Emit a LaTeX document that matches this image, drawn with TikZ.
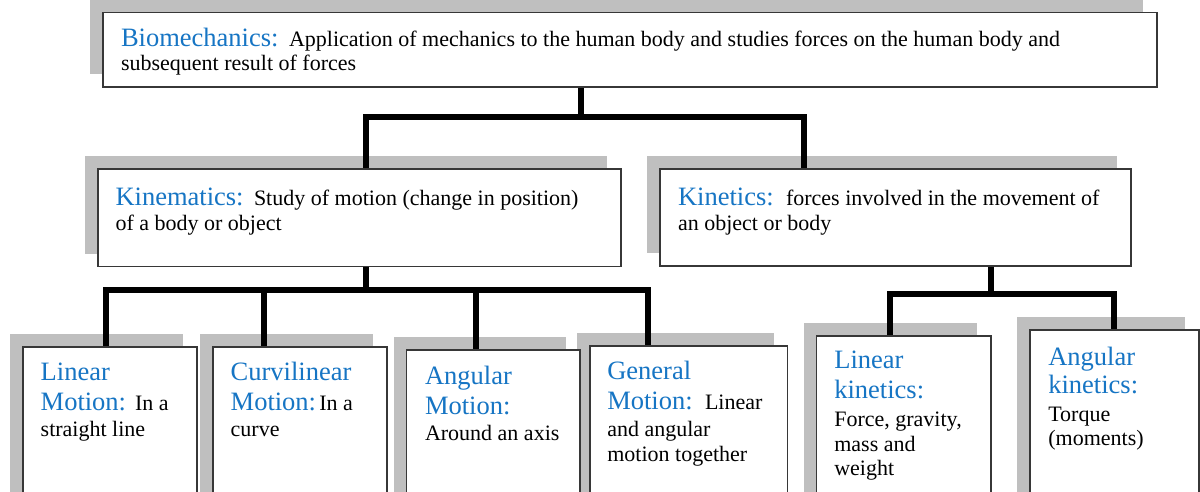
\documentclass[tikz,border=0pt]{standalone}
\usepackage{fontspec}
\setmainfont{LiberationSerif}[Extension=.ttf, UprightFont=*-Regular, BoldFont=*-Bold, ItalicFont=*-Italic, BoldItalicFont=*-BoldItalic]
\usetikzlibrary{fit,backgrounds}
\definecolor{lblue}{RGB}{22,117,196}
\definecolor{shadowgray}{RGB}{191,191,191}
\definecolor{bordergray}{RGB}{55,55,55}
\newcommand{\bluefont}{\rmfamily\fontsize{26.5}{30}\selectfont\color{lblue}}
\newcommand{\blackfont}{\rmfamily\fontsize{22}{25}\selectfont\color{black}}
\begin{document}
\begin{tikzpicture}[x=1pt,y=-1pt,
  box/.style={draw=bordergray, line width=1.5pt, fill=white, inner sep=0pt, outer sep=0pt},
  conn/.style={line width=6pt, draw=black, line join=miter},
  shade/.style={fill=shadowgray},
  bl/.style={anchor=base west, inner sep=0pt, outer sep=0pt, font=\bluefont},
  tx/.style={anchor=base west, inner sep=0pt, outer sep=0pt, font=\blackfont}]
\useasboundingbox (0,0) rectangle (1200,492);
\clip (0,0) rectangle (1200,492);

% boxes
\node[box, fit={(103,12.5) (1157,87)}] (bio) {};
\node[box, fit={(98,169) (621,266.5)}] (kmx) {};
\node[box, fit={(660,169) (1131,266)}] (knt) {};
\node[box, fit={(23,347) (197,520)}] (lm) {};
\node[box, fit={(213,347) (387,520)}] (cm) {};
\node[box, fit={(406.5,350) (580,520)}] (am) {};
\node[box, fit={(590,346) (787.5,520)}] (gm) {};
\node[box, fit={(816.5,336) (991,520)}] (lk) {};
\node[box, fit={(1030,330) (1199,520)}] (ak) {};

% junction coordinates
\coordinate (j1) at (580.5,117.5);
\coordinate (h1l) at (366,117.5);
\coordinate (h1r) at (804,117.5);
\coordinate (j2) at (366,289.7);
\coordinate (h2a) at (106,289.7);
\coordinate (h2b) at (264,289.7);
\coordinate (h2c) at (476,289.7);
\coordinate (h2d) at (648.3,289.7);
\coordinate (j3) at (991,294);
\coordinate (h3a) at (890,294);
\coordinate (h3b) at (1113.5,294);

\begin{scope}[on background layer]
  \foreach \b in {bio,kmx,knt,lm,cm,am,gm,lk,ak}{
    \fill[shade] ([shift={(-13,-13)}]\b.south west) rectangle ([shift={(-14,-13)}]\b.north east);
  }
  \draw[conn] (bio.south -| j1) -- (j1);
  \draw[conn] (kmx.north -| h1l) -- (h1l) -- (h1r) -- (knt.north -| h1r);
  \draw[conn] (kmx.south -| j2) -- (j2);
  \draw[conn] (lm.north -| h2a) -- (h2a) -- (h2d) -- (gm.north -| h2d);
  \draw[conn] (h2b) -- (cm.north -| h2b);
  \draw[conn] (h2c) -- (am.north -| h2c);
  \draw[conn] (knt.south -| j3) -- (j3);
  \draw[conn] (lk.north -| h3a) -- (h3a) -- (h3b) -- (ak.north -| h3b);
\end{scope}

% texts: top box
\node[bl] (bio1) at (121,47) {Biomechanics:};
\node[tx] (bio2) at (289,47) {Application of mechanics to the human body and studies forces on the human body and};
\node[tx] (bio3) at (121,71) {subsequent result of forces};
% kinematics
\node[bl] (kmx1) at (115.5,205) {Kinematics:};
\node[tx] (kmx2) at (254,205) {Study of motion (change in position)};
\node[tx] (kmx3) at (115.5,230) {of a body or object};
% kinetics
\node[bl] (knt1) at (678,205) {Kinetics:};
\node[tx] (knt2) at (786,205) {forces involved in the movement of};
\node[tx] (knt3) at (678,230) {an object or body};
% linear motion
\node[bl] (lm1) at (40.7,380) {Linear};
\node[bl] (lm2) at (40.7,410.7) {Motion:};
\node[tx] (lm3) at (135,410.7) {In a};
\node[tx] (lm4) at (40.7,436.7) {straight line};
% curvilinear motion
\node[bl] (cm1) at (230.7,380) {Curvilinear};
\node[bl] (cm2) at (230.7,410.7) {Motion:};
\node[tx] (cm3) at (319.3,410.7) {In a};
\node[tx] (cm4) at (230.7,436.7) {curve};
% angular motion
\node[bl] (am1) at (425,384) {Angular};
\node[bl] (am2) at (425,414) {Motion:};
\node[tx] (am3) at (425,440) {Around an axis};
% general motion
\node[bl] (gm1) at (607.3,379.3) {General};
\node[bl] (gm2) at (607.3,409.3) {Motion:};
\node[tx] (gm3) at (705,409.3) {Linear};
\node[tx] (gm4) at (607.3,436.7) {and angular};
\node[tx] (gm5) at (607.3,461) {motion together};
% linear kinetics
\node[bl] (lk1) at (834.3,368.3) {Linear};
\node[bl] (lk2) at (834.3,398.3) {kinetics:};
\node[tx] (lk3) at (834.3,426.7) {Force, gravity,};
\node[tx] (lk4) at (834.3,451.7) {mass and};
\node[tx] (lk5) at (834.3,475) {weight};
% angular kinetics
\node[bl] (ak1) at (1048.3,365) {Angular};
\node[bl] (ak2) at (1048.3,393.3) {kinetics:};
\node[tx] (ak3) at (1048.3,421) {Torque};
\node[tx] (ak4) at (1048.3,445) {(moments)};
\end{tikzpicture}
\end{document}
